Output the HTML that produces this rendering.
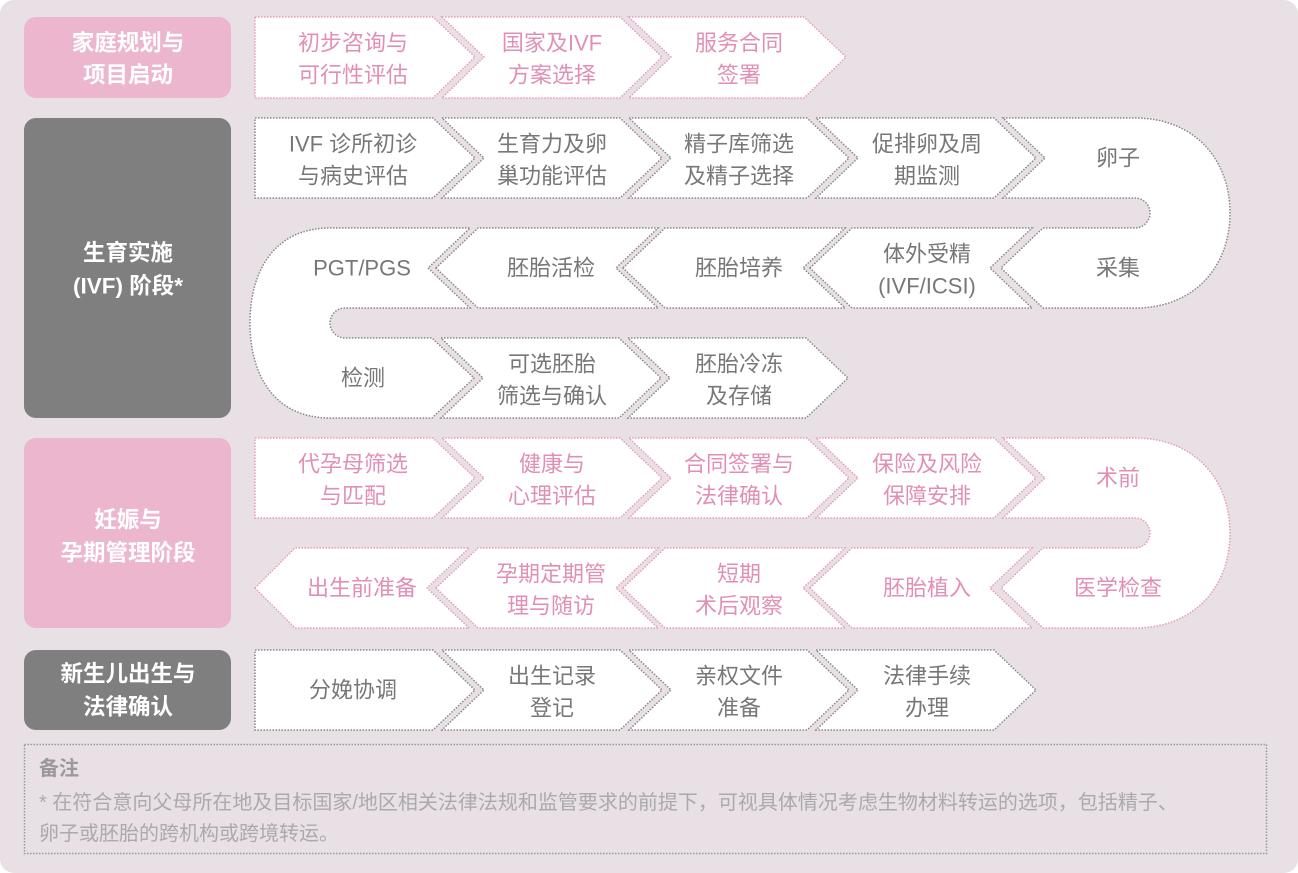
<!DOCTYPE html>
<html><head><meta charset="utf-8"><style>
html,body{margin:0;padding:0;background:#fff;}
svg{display:block;font-family:"Liberation Sans","Noto Sans CJK SC",sans-serif;}
</style></head><body>
<svg width="1298" height="873" viewBox="0 0 1298 873" xmlns="http://www.w3.org/2000/svg">
<rect x="0" y="0" width="1298" height="873" rx="14" fill="#e8e0e4"/>
<rect x="24" y="17" width="207" height="81" rx="12" fill="#ecb6cf"/>
<rect x="24" y="118" width="207" height="300" rx="12" fill="#7f7f7f"/>
<rect x="24" y="438" width="207" height="190" rx="12" fill="#ecb6cf"/>
<rect x="24" y="650" width="207" height="80" rx="12" fill="#7f7f7f"/>
<g fill="#fff" font-size="22.5" font-weight="bold" text-anchor="middle" dominant-baseline="central">
<text x="128" y="43">家庭规划与</text><text x="128" y="75">项目启动</text>
<text x="128" y="253">生育实施</text><text x="128" y="286">(IVF) 阶段*</text>
<text x="128" y="520">妊娠与</text><text x="128" y="553">孕期管理阶段</text>
<text x="128" y="674">新生儿出生与</text><text x="128" y="707">法律确认</text>
</g>

<g fill="#fff" stroke="#e89bbd" stroke-width="1.5" stroke-dasharray="1.5 1.5">
<polygon points="255,17 433,17 475,57 433,98 255,98"/>
<polygon points="442,17 620,17 662,57 620,98 442,98 484,57"/>
<polygon points="629,17 804,17 846,57 804,98 629,98 671,57"/>
</g>
<g fill="#e28fb6" font-size="22" text-anchor="middle" dominant-baseline="central">
<text x="353" y="43">初步咨询与</text><text x="353" y="75">可行性评估</text>
<text x="552" y="43">国家及IVF</text><text x="552" y="75">方案选择</text>
<text x="739" y="43">服务合同</text><text x="739" y="75">签署</text>
</g>

<g fill="#fff" stroke="#888" stroke-width="1.5" stroke-dasharray="1.5 1.5">
<polygon points="255,118 433,118 475,158 433,198 255,198"/>
<polygon points="442,118 620,118 662,158 620,198 442,198 484,158"/>
<polygon points="629,118 807,118 849,158 807,198 629,198 671,158"/>
<polygon points="816,118 994,118 1036,158 994,198 816,198 858,158"/>
<path d="M1003 118 L1135 118 C1195 118 1230 160 1230 213 C1230 266 1195 308 1135 308 L1043 308 L1001 268 L1043 228 L1135 228 A15 15 0 0 0 1135 198 L1003 198 L1045 158 Z"/>
<polygon points="810,268 852,228 1032,228 990,268 1032,308 852,308"/>
<polygon points="623,268 665,228 845,228 803,268 845,308 665,308"/>
<polygon points="436,268 478,228 658,228 616,268 658,308 478,308"/>
<path d="M330 228 L470 228 L428 268 L470 308 L345 308 A15 15 0 0 0 345 338 L432 338 L474 378 L432 418 L330 418 C275 418 250 376 250 323 C250 270 275 228 330 228 Z"/>
<polygon points="441,338 619,338 661,378 619,418 441,418 483,378"/>
<polygon points="628,338 806,338 848,378 806,418 628,418 670,378"/>
</g>
<g fill="#777" font-size="22" text-anchor="middle" dominant-baseline="central">
<text x="353" y="144">IVF 诊所初诊</text><text x="353" y="176">与病史评估</text>
<text x="552" y="144">生育力及卵</text><text x="552" y="176">巢功能评估</text>
<text x="739" y="144">精子库筛选</text><text x="739" y="176">及精子选择</text>
<text x="927" y="144">促排卵及周</text><text x="927" y="176">期监测</text>
<text x="1118" y="158">卵子</text>
<text x="1118" y="268">采集</text>
<text x="927" y="254">体外受精</text><text x="927" y="286">(IVF/ICSI)</text>
<text x="739" y="268">胚胎培养</text>
<text x="551" y="268">胚胎活检</text>
<text x="362" y="268">PGT/PGS</text>
<text x="363" y="378">检测</text>
<text x="552" y="364">可选胚胎</text><text x="552" y="396">筛选与确认</text>
<text x="739" y="364">胚胎冷冻</text><text x="739" y="396">及存储</text>
</g>

<g fill="#fff" stroke="#e89bbd" stroke-width="1.5" stroke-dasharray="1.5 1.5">
<polygon points="255,438 433,438 475,478 433,518 255,518"/>
<polygon points="442,438 620,438 662,478 620,518 442,518 484,478"/>
<polygon points="629,438 807,438 849,478 807,518 629,518 671,478"/>
<polygon points="816,438 994,438 1036,478 994,518 816,518 858,478"/>
<path d="M1003 438 L1135 438 C1195 438 1230 480 1230 533 C1230 586 1195 628 1135 628 L1043 628 L1001 588 L1043 548 L1135 548 A15 15 0 0 0 1135 518 L1003 518 L1045 478 Z"/>
<polygon points="810,588 852,548 1032,548 990,588 1032,628 852,628"/>
<polygon points="623,588 665,548 845,548 803,588 845,628 665,628"/>
<polygon points="436,588 478,548 658,548 616,588 658,628 478,628"/>
<polygon points="255,588 295,548 469,548 427,588 469,628 295,628"/>
</g>
<g fill="#e28fb6" font-size="22" text-anchor="middle" dominant-baseline="central">
<text x="353" y="464">代孕母筛选</text><text x="353" y="496">与匹配</text>
<text x="552" y="464">健康与</text><text x="552" y="496">心理评估</text>
<text x="739" y="464">合同签署与</text><text x="739" y="496">法律确认</text>
<text x="927" y="464">保险及风险</text><text x="927" y="496">保障安排</text>
<text x="1118" y="478">术前</text>
<text x="1118" y="588">医学检查</text>
<text x="927" y="588">胚胎植入</text>
<text x="739" y="574">短期</text><text x="739" y="606">术后观察</text>
<text x="551" y="574">孕期定期管</text><text x="551" y="606">理与随访</text>
<text x="362" y="588">出生前准备</text>
</g>

<g fill="#fff" stroke="#888" stroke-width="1.5" stroke-dasharray="1.5 1.5">
<polygon points="255,650 433,650 475,690 433,730 255,730"/>
<polygon points="442,650 620,650 662,690 620,730 442,730 484,690"/>
<polygon points="629,650 807,650 849,690 807,730 629,730 671,690"/>
<polygon points="816,650 994,650 1036,690 994,730 816,730 858,690"/>
</g>
<g fill="#777" font-size="22" text-anchor="middle" dominant-baseline="central">
<text x="353" y="690">分娩协调</text>
<text x="552" y="676">出生记录</text><text x="552" y="708">登记</text>
<text x="739" y="676">亲权文件</text><text x="739" y="708">准备</text>
<text x="927" y="676">法律手续</text><text x="927" y="708">办理</text>
</g>

<rect x="24.5" y="744.5" width="1242" height="109" fill="none" stroke="#999" stroke-width="1.5" stroke-dasharray="1.5 1.5"/>
<text x="39" y="769" font-size="20" font-weight="bold" fill="#999" dominant-baseline="central">备注</text>
<text x="39" y="803" font-size="20" fill="#aaa" dominant-baseline="central">* 在符合意向父母所在地及目标国家/地区相关法律法规和监管要求的前提下，可视具体情况考虑生物材料转运的选项，包括精子、</text>
<text x="39" y="834" font-size="20" fill="#aaa" dominant-baseline="central">卵子或胚胎的跨机构或跨境转运。</text>
</svg>
</body></html>
